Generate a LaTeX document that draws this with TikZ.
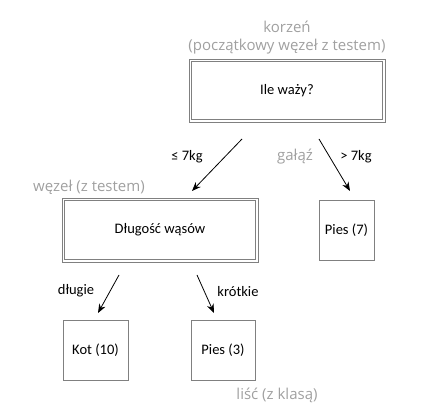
\documentclass[tikz,border=0pt]{standalone}
\usepackage{fontspec}
\setmainfont{Carlito}
\newfontfamily\grayfont{Open Sans}
\usetikzlibrary{arrows.meta}
\definecolor{lbl}{HTML}{A0A0A0}
\definecolor{boxline}{HTML}{808080}
\tikzset{
  box/.style={draw=boxline, line width=0.8pt, inner sep=0pt, font=\fontsize{14.5}{16}\selectfont},
  dbox/.style={box, append after command={
      \pgfextra{\draw[boxline, line width=0.8pt]
        ([shift={(3,3)}]\tikzlastnode.north west) rectangle
        ([shift={(-3,-3)}]\tikzlastnode.south east);}}},
  glabel/.style={text=lbl, font=\grayfont\fontsize{15}{17}\selectfont, inner sep=0pt},
  blabel/.style={font=\fontsize{14.5}{16}\selectfont, inner sep=0pt},
  arr/.style={-{Stealth[length=9pt,width=7pt]}, line width=0.8pt},
}
\begin{document}
\begin{tikzpicture}[x=1pt,y=-1pt]
\useasboundingbox (0,0) rectangle (448,406);
% boxes
\node[dbox, minimum width=196pt, minimum height=63pt] (root) at (287,90.5) {Ile waży?};
\node[dbox, minimum width=196pt, minimum height=64pt] (len) at (160,230) {Długość wąsów};
\node[box, minimum width=55pt, minimum height=60pt] (p7) at (346.5,230) {Pies (7)};
\node[box, minimum width=65pt, minimum height=60pt] (kot) at (95.5,350) {Kot (10)};
\node[box, minimum width=64pt, minimum height=60pt] (p3) at (223,350) {Pies (3)};
% gray labels
\node[glabel] (lroot1) at (287,27) {korzeń};
\node[glabel] (lroot2) at (287,47) {(początkowy węzeł z testem)};
\node[glabel] (lnode) at (89,187) {węzeł (z testem)};
\node[glabel] (lbranch) at (295,157) {gałąź};
\node[glabel] (lleaf) at (277,395) {liść (z klasą)};
% arrow labels
\node[blabel] (t1) at (187,157) {≤ 7kg};
\node[blabel] (t2) at (356,157) {> 7kg};
\node[blabel] (t3) at (76,291) {długie};
\node[blabel] (t4) at (238,292) {krótkie};
% arrows
\coordinate (a1s) at (242,139);
\coordinate (a1e) at (192,191);
\coordinate (a2s) at (319,139);
\coordinate (a2e) at (350,191);
\coordinate (a3s) at (119,275);
\coordinate (a3e) at (98,313);
\coordinate (a4s) at (197,275);
\coordinate (a4e) at (214,313);
\draw[arr] (a1s) -- (a1e);
\draw[arr] (a2s) -- (a2e);
\draw[arr] (a3s) -- (a3e);
\draw[arr] (a4s) -- (a4e);
\end{tikzpicture}
\end{document}
